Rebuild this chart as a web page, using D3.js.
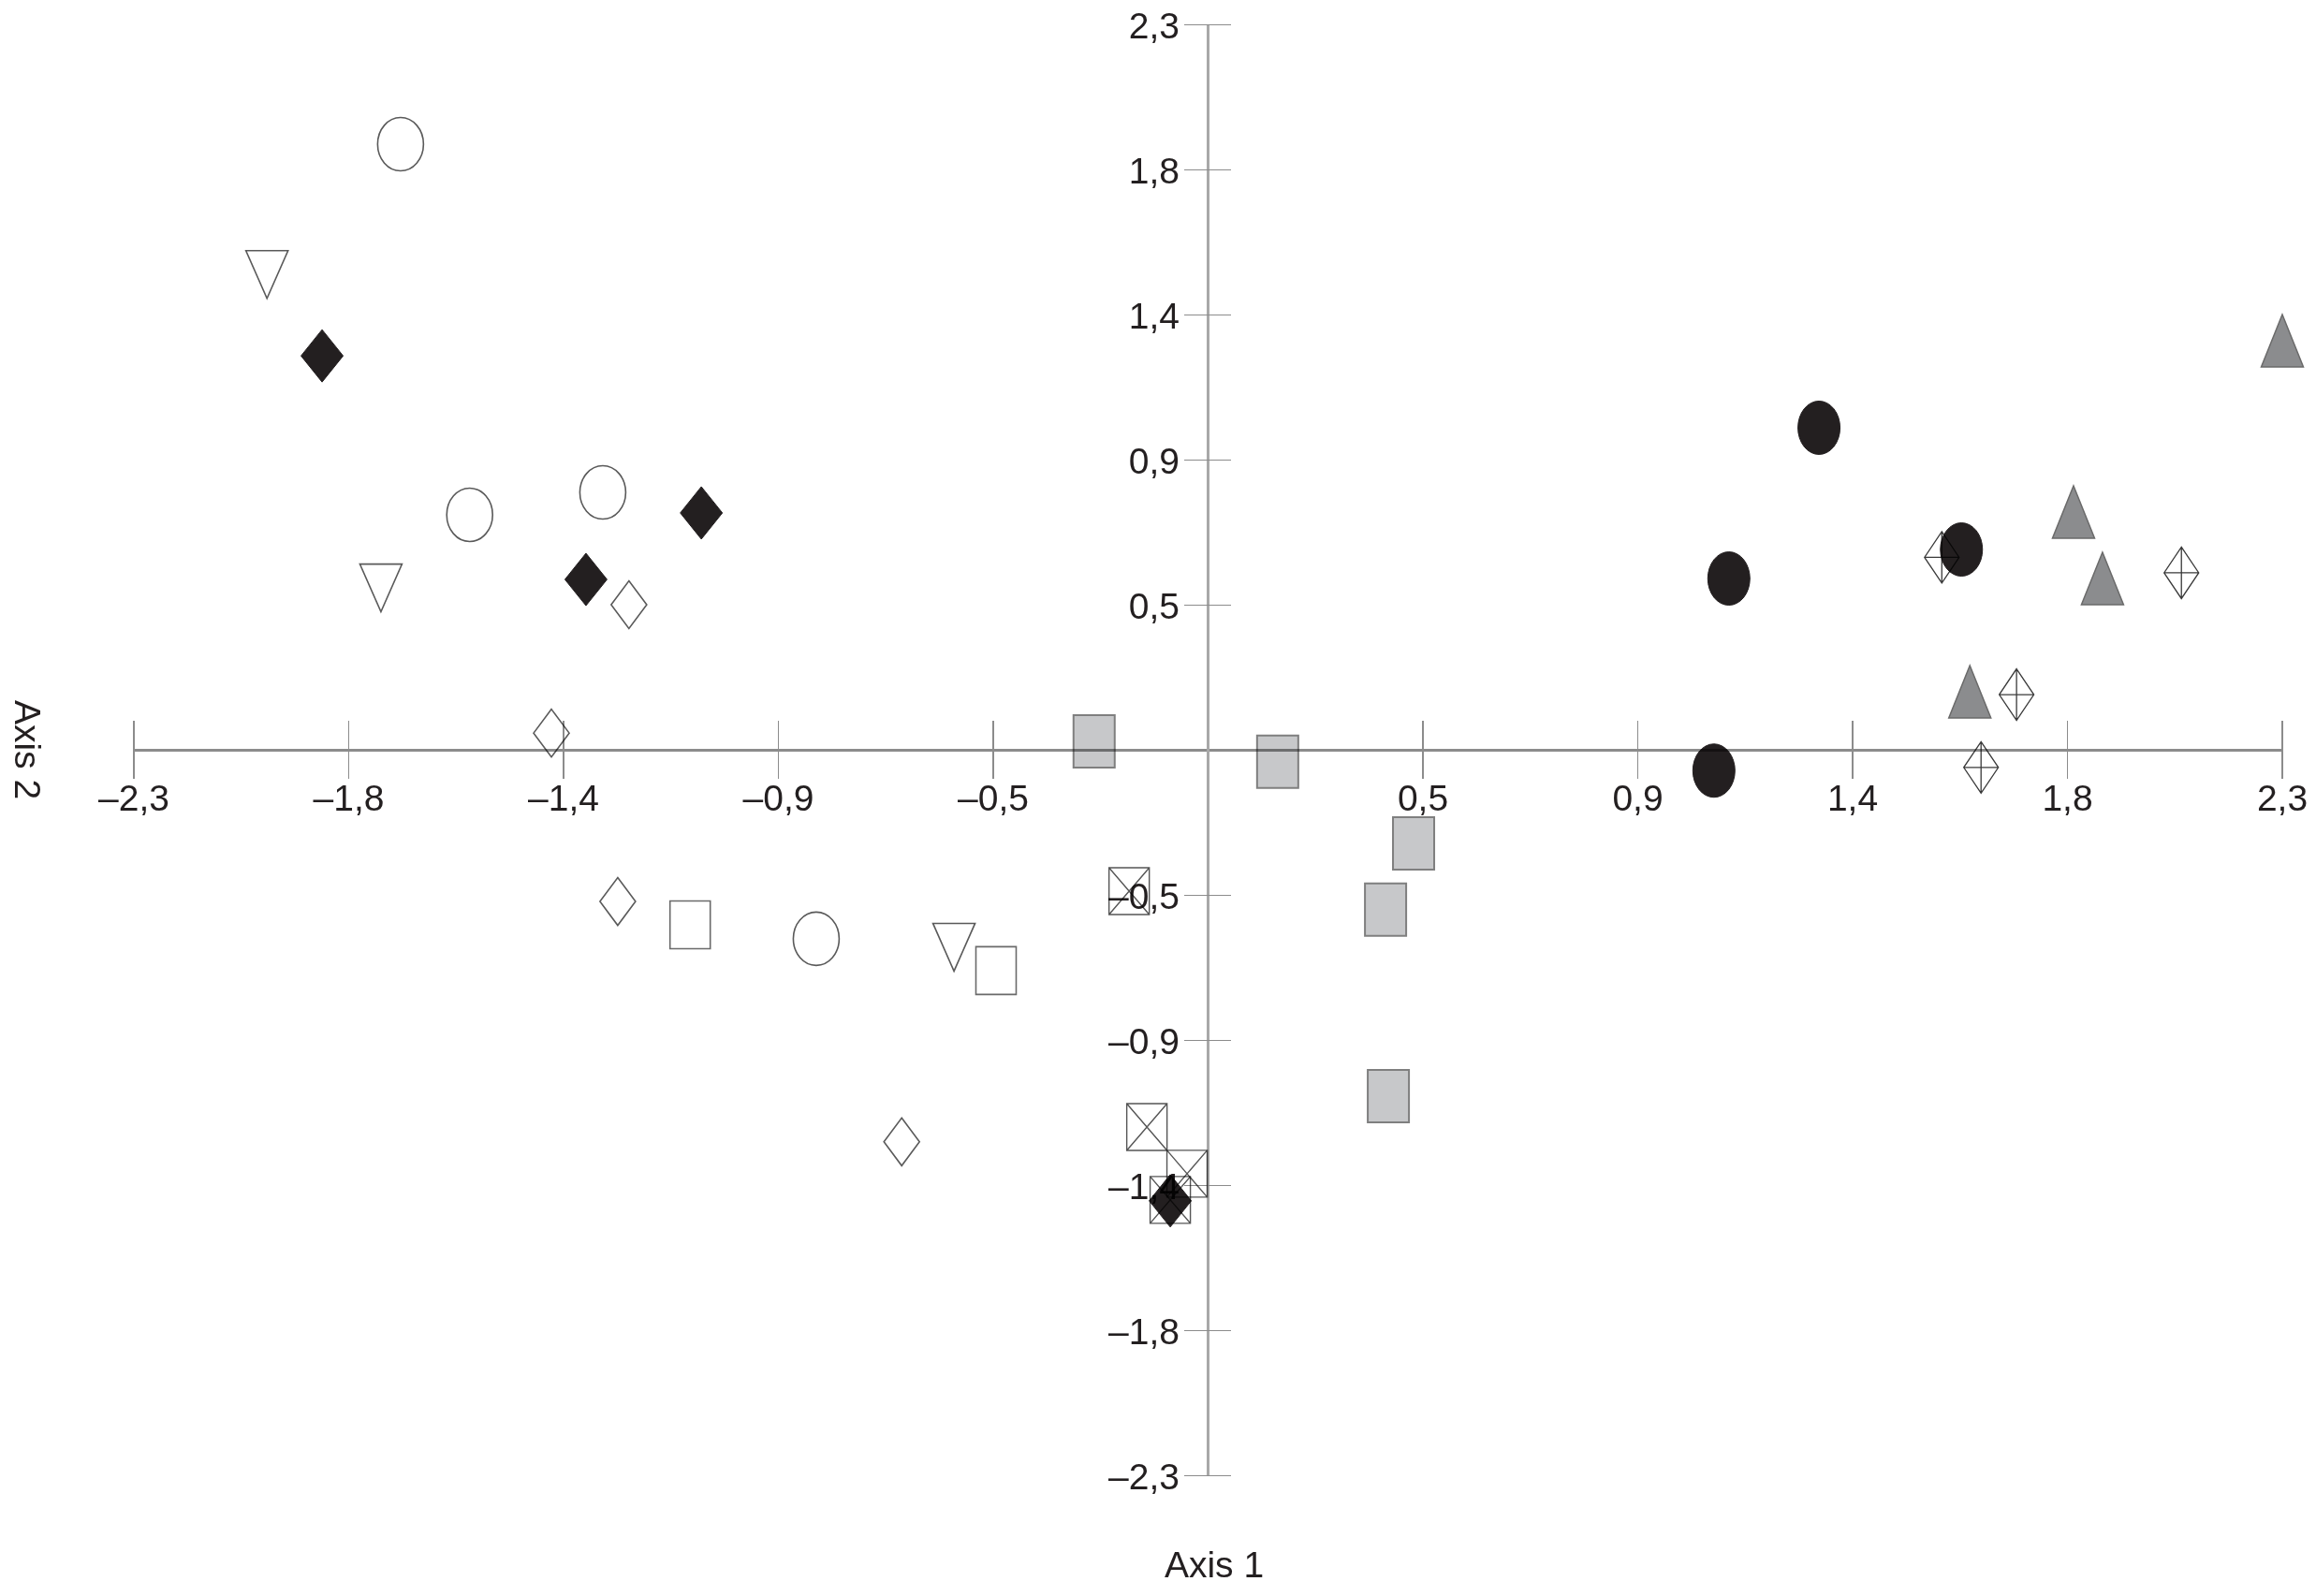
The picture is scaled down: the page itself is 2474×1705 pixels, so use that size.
<!DOCTYPE html>
<html>
<head>
<meta charset="utf-8">
<script src="https://cdn.jsdelivr.net/npm/d3@7"></script>
<style>
  body { margin: 0; background: #fff; }
  svg { display: block; }
  .tick text, .title { font-family: "Liberation Sans", Arial, Helvetica, sans-serif; fill: #231f20; }
  .marker { mix-blend-mode: multiply; }
</style>
</head>
<body>
<svg id="chart" width="2474" height="1705"></svg>
<script>
// tick values: the axis is cut in 10 equal steps of 0.46, labelled with one decimal
var tickSteps = [-5, -4, -3, -2, -1, 1, 2, 3, 4, 5];
var tickStep = 0.46;

// points per group, [axis 1, axis 2]
var openCircles   = [[-1.728, 1.920], [-1.580, 0.745], [-1.295, 0.816], [-0.838, -0.599]];
var openTriangles = [[-2.014, 1.507], [-1.770, 0.513], [-0.543, -0.626]];
var blackDiamonds = [[-1.896, 1.249], [-1.331, 0.540], [-1.084, 0.751], [-0.080, -1.430]];
var openDiamonds  = [[-1.239, 0.460], [-1.405, 0.053], [-1.263, -0.481], [-0.655, -1.243]];
var openSquares   = [[-1.108, -0.555], [-0.453, -0.700]];
var graySquares   = [[-0.243, 0.027], [0.150, -0.038], [0.441, -0.297], [0.381, -0.507], [0.387, -1.098]];
var crossSquares  = [[-0.168, -0.448], [-0.130, -1.196], [-0.044, -1.344], [-0.080, -1.427]];
var blackCircles  = [[1.309, 1.021], [1.116, 0.543], [1.614, 0.635], [1.084, -0.066]];
var grayTriangles = [[2.301, 1.297], [1.854, 0.754], [1.916, 0.543], [1.632, 0.184]];
var crossDiamonds = [[1.572, 0.610], [2.085, 0.561], [1.732, 0.175], [1.656, -0.056]];

var svg = d3.select("#chart"),
    width = +svg.attr("width"),
    height = +svg.attr("height");

var x = d3.scaleLinear().domain([-2.3, 2.3]).range([142.5, 2437.5]);
var y = d3.scaleLinear().domain([-2.3, 2.3]).range([1576, 26]);

var locale = d3.formatLocale({decimal: ",", thousands: ".", grouping: [3], currency: ["", ""], minus: "\u2013"});
var fmt = locale.format(".1f");
var tickValues = tickSteps.map(function(s) { return s * tickStep; });

// shape paths, centred on 0,0
function ellipse(w, h) {
  var rx = w / 2, ry = h / 2;
  return "M" + (-rx) + ",0A" + rx + "," + ry + " 0 1,0 " + rx + ",0A" + rx + "," + ry + " 0 1,0 " + (-rx) + ",0Z";
}
function diamond(w, h) {
  return "M0," + (-h / 2) + "L" + (w / 2) + ",0L0," + (h / 2) + "L" + (-w / 2) + ",0Z";
}
function crossDiamond(w, h) {
  return diamond(w, h) + "M0," + (-h / 2) + "V" + (h / 2) + "M" + (-w / 2) + ",0H" + (w / 2);
}
function box(w, h) {
  return "M" + (-w / 2) + "," + (-h / 2) + "H" + (w / 2) + "V" + (h / 2) + "H" + (-w / 2) + "Z";
}
function crossBox(w, h) {
  return box(w, h) + "M" + (-w / 2) + "," + (-h / 2) + "L" + (w / 2) + "," + (h / 2) +
    "M" + (w / 2) + "," + (-h / 2) + "L" + (-w / 2) + "," + (h / 2);
}
function triDown(w, h) {
  return "M" + (-w / 2) + "," + (-h / 2) + "H" + (w / 2) + "L0," + (h / 2) + "Z";
}
function triUp(w, h) {
  return "M0," + (-h / 2) + "L" + (w / 2) + "," + (h / 2) + "H" + (-w / 2) + "Z";
}

// axes
var axisG = svg.append("g");

var xAxis = axisG.append("g")
    .attr("transform", "translate(0," + y(0) + ")")
    .call(d3.axisBottom(x).tickValues(tickValues).tickFormat(fmt).tickSize(31).tickSizeOuter(0).tickPadding(6));
xAxis.selectAll(".tick line").attr("y1", -31).attr("stroke", "#8c8c8c").attr("stroke-width", 1.5);
xAxis.select(".domain").attr("stroke", "#8c8c8c").attr("stroke-width", 2.2);
xAxis.selectAll(".tick text").attr("font-size", 39);

var yAxis = axisG.append("g")
    .attr("transform", "translate(" + x(0) + ",0)")
    .call(d3.axisLeft(y).tickValues(tickValues).tickFormat(fmt).tickSize(25).tickSizeOuter(0).tickPadding(5));
yAxis.selectAll(".tick line").attr("x1", 25).attr("stroke", "#8c8c8c").attr("stroke-width", 1.5);
yAxis.select(".domain").attr("stroke", "#a8a8a8").attr("stroke-width", 2.5);
yAxis.selectAll(".tick text").attr("font-size", 39).attr("dy", "0.36em");

axisG.selectAll(".domain, .tick line").attr("shape-rendering", "crispEdges");

// axis titles
svg.append("text").attr("class", "title")
    .attr("x", 1297).attr("y", 1685)
    .attr("text-anchor", "middle").attr("font-size", 39)
    .text("Axis 1");
svg.append("text").attr("class", "title")
    .attr("transform", "translate(16," + y(0) + ") rotate(90)")
    .attr("text-anchor", "middle").attr("font-size", 39)
    .text("Axis 2");

// groups, in drawing order
var groups = [
  {pts: openCircles,   path: ellipse(49, 57),      fill: "#fff",    stroke: "#5a5a5a", sw: 1.6},
  {pts: openTriangles, path: triDown(45, 51),      fill: "#fff",    stroke: "#5a5a5a", sw: 1.6},
  {pts: openDiamonds,  path: diamond(38, 51),      fill: "#fff",    stroke: "#5a5a5a", sw: 1.6},
  {pts: openSquares,   path: box(43, 51),          fill: "#fff",    stroke: "#6a6a6a", sw: 1.6},
  {pts: graySquares,   path: box(44, 56),          fill: "#c7c8ca", stroke: "#7f7f7f", sw: 2},
  {pts: crossSquares,  path: crossBox(43, 50),     fill: "#fff",    stroke: "#555",    sw: 1.4},
  {pts: blackDiamonds, path: diamond(45, 56),      fill: "#231f20", stroke: "#231f20", sw: 1},
  {pts: crossDiamonds, path: crossDiamond(37, 55), fill: "#fff",    stroke: "#3a3a3a", sw: 1.3},
  {pts: grayTriangles, path: triUp(45, 56),        fill: "#8b8c8e", stroke: "#6a6a6a", sw: 1.5},
  {pts: blackCircles,  path: ellipse(45, 57),      fill: "#231f20", stroke: "#231f20", sw: 1}
];

var markG = svg.append("g");
groups.forEach(function(g) {
  markG.append("g").selectAll("path")
    .data(g.pts)
    .enter().append("path")
    .attr("class", "marker")
    .attr("d", g.path)
    .attr("transform", function(d) { return "translate(" + x(d[0]) + "," + y(d[1]) + ")"; })
    .attr("fill", g.fill)
    .attr("stroke", g.stroke)
    .attr("stroke-width", g.sw)
    .attr("stroke-linejoin", "miter");
});
</script>
</body>
</html>
